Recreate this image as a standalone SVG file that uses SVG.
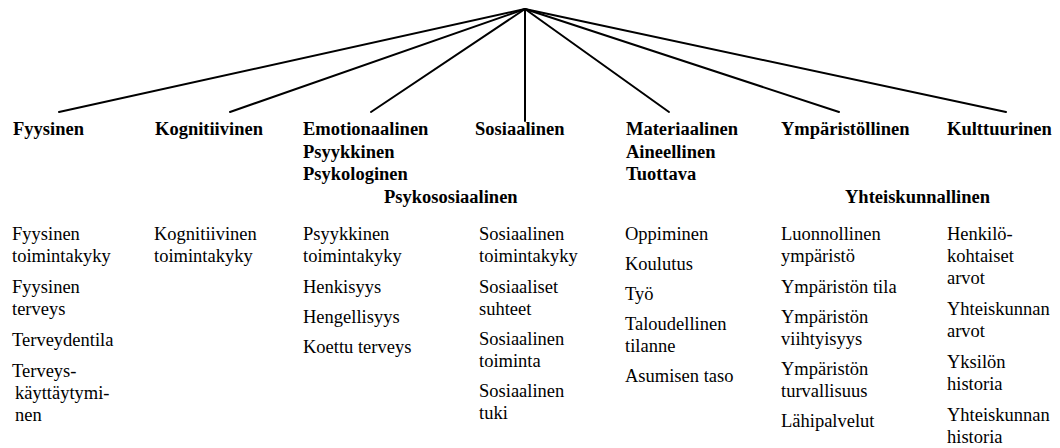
<svg xmlns="http://www.w3.org/2000/svg" width="1060" height="448" viewBox="0 0 1060 448" font-family="Liberation Serif, Times New Roman, serif">
<style>
.h{font-family:'Liberation Serif','Times New Roman',serif;font-weight:bold;font-size:18.5px;fill:#000}
.t{font-family:'Liberation Serif','Times New Roman',serif;font-size:18.5px;fill:#000}
.c line{stroke:#000;stroke-width:2;stroke-linecap:round}
</style>
<rect width="1060" height="448" fill="#fff"/>
<g id="connectors" class="c">
<line x1="525" y1="9" x2="59" y2="112"/>
<line x1="525" y1="9" x2="230" y2="112"/>
<line x1="525" y1="9" x2="371" y2="112"/>
<line x1="525" y1="9" x2="525" y2="121"/>
<line x1="525" y1="9" x2="669" y2="112"/>
<line x1="525" y1="9" x2="839" y2="112"/>
<line x1="525" y1="9" x2="1006" y2="112"/>
</g>
<g id="fyysinen">
<text class="h" x="13" y="135">Fyysinen</text>
<text class="t" x="12" y="240">Fyysinen</text>
<text class="t" x="12" y="262">toimintakyky</text>
<text class="t" x="12" y="293">Fyysinen</text>
<text class="t" x="12" y="315">terveys</text>
<text class="t" x="12" y="346">Terveydentila</text>
<text class="t" x="12" y="377">Terveys-</text>
<text class="t" x="15" y="399">käyttäytymi-</text>
<text class="t" x="15" y="421">nen</text>
</g>
<g id="kognitiivinen">
<text class="h" x="155" y="135">Kognitiivinen</text>
<text class="t" x="154" y="240">Kognitiivinen</text>
<text class="t" x="154" y="262">toimintakyky</text>
</g>
<g id="emotionaalinen">
<text class="h" x="303" y="135">Emotionaalinen</text>
<text class="h" x="303" y="158">Psyykkinen</text>
<text class="h" x="303" y="180">Psykologinen</text>
<text class="t" x="303" y="240">Psyykkinen</text>
<text class="t" x="303" y="262">toimintakyky</text>
<text class="t" x="303" y="293">Henkisyys</text>
<text class="t" x="303" y="323">Hengellisyys</text>
<text class="t" x="303" y="353">Koettu terveys</text>
</g>
<g id="psykososiaalinen">
<text class="h" x="384" y="203">Psykososiaalinen</text>
</g>
<g id="sosiaalinen">
<text class="h" x="475" y="135">Sosiaalinen</text>
<text class="t" x="479" y="240">Sosiaalinen</text>
<text class="t" x="479" y="262">toimintakyky</text>
<text class="t" x="479" y="293">Sosiaaliset</text>
<text class="t" x="479" y="315">suhteet</text>
<text class="t" x="479" y="345">Sosiaalinen</text>
<text class="t" x="479" y="367">toiminta</text>
<text class="t" x="479" y="397">Sosiaalinen</text>
<text class="t" x="479" y="419">tuki</text>
</g>
<g id="materiaalinen">
<text class="h" x="626" y="135">Materiaalinen</text>
<text class="h" x="626" y="158">Aineellinen</text>
<text class="h" x="626" y="180">Tuottava</text>
<text class="t" x="625" y="240">Oppiminen</text>
<text class="t" x="625" y="270">Koulutus</text>
<text class="t" x="625" y="300">Työ</text>
<text class="t" x="625" y="330">Taloudellinen</text>
<text class="t" x="625" y="352">tilanne</text>
<text class="t" x="625" y="382">Asumisen taso</text>
</g>
<g id="ymparistollinen">
<text class="h" x="781" y="135">Ympäristöllinen</text>
<text class="t" x="781" y="240">Luonnollinen</text>
<text class="t" x="781" y="262">ympäristö</text>
<text class="t" x="781" y="293">Ympäristön tila</text>
<text class="t" x="781" y="323">Ympäristön</text>
<text class="t" x="781" y="345">viihtyisyys</text>
<text class="t" x="781" y="375">Ympäristön</text>
<text class="t" x="781" y="397">turvallisuus</text>
<text class="t" x="781" y="427">Lähipalvelut</text>
</g>
<g id="yhteiskunnallinen">
<text class="h" x="845" y="203">Yhteiskunnallinen</text>
</g>
<g id="kulttuurinen">
<text class="h" x="947" y="135">Kulttuurinen</text>
<text class="t" x="947" y="240">Henkilö-</text>
<text class="t" x="947" y="262">kohtaiset</text>
<text class="t" x="947" y="284">arvot</text>
<text class="t" x="947" y="315">Yhteiskunnan</text>
<text class="t" x="947" y="337">arvot</text>
<text class="t" x="947" y="368">Yksilön</text>
<text class="t" x="947" y="390">historia</text>
<text class="t" x="947" y="421">Yhteiskunnan</text>
<text class="t" x="947" y="443">historia</text>
</g>
</svg>
